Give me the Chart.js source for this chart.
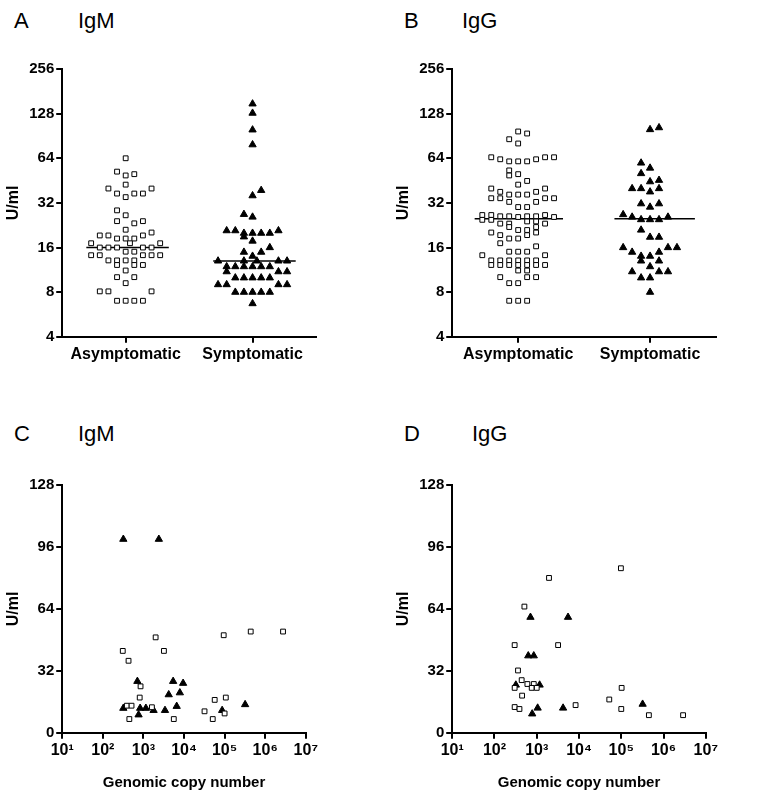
<!DOCTYPE html>
<html><head><meta charset="utf-8">
<script src="https://cdn.jsdelivr.net/npm/chart.js@4"></script>
<style>
body{margin:0;background:#fff;width:773px;height:800px;position:relative;font-family:"Liberation Sans",Arial,sans-serif;overflow:hidden}
.lbl{position:absolute;font-size:22px;color:#000}
.box{position:absolute}
</style></head><body>
<div class="lbl" style="left:14px;top:8px">A</div><div class="lbl" style="left:78px;top:8px">IgM</div>
<div class="lbl" style="left:404px;top:8px">B</div><div class="lbl" style="left:462px;top:8px">IgG</div>
<div class="lbl" style="left:14px;top:421px">C</div><div class="lbl" style="left:78px;top:421px">IgM</div>
<div class="lbl" style="left:404px;top:421px">D</div><div class="lbl" style="left:472px;top:421px">IgG</div>
<div class="box" style="left:0;top:58px;width:326px;height:308px"><canvas id="a"></canvas></div>
<div class="box" style="left:390px;top:58px;width:336px;height:308px"><canvas id="b"></canvas></div>
<div class="box" style="left:0;top:474px;width:320px;height:322px"><canvas id="c"></canvas></div>
<div class="box" style="left:390px;top:474px;width:330px;height:322px"><canvas id="d"></canvas></div>
<script>
const groups=["Asymptomatic","Symptomatic"];
const logTicks=[4,8,16,32,64,128,256];
const linTicks=[0,32,64,96,128];
const copyTicks=[1e1,1e2,1e3,1e4,1e5,1e6,1e7];
// Panel A (IgM) dot plot: values and column slot
const aAsymVal=[64,52,49,50,42.5,40,40,37,35,37,37,28.5,26.4,24.1,23.3,24.1,21.1,20.2,19.3,19.3,19.3,18.4,18.4,18.4,17.1,17.1,17.1,16,16,16,16,16,15,15,14.2,14.2,14.2,14.2,14.2,13.1,13.1,13.1,13.1,12.2,12.2,12.2,11.2,10.1,10.1,9.2,8.1,8.1,8.1,7,7,7,7];
const aAsymCol=[0,-1,0,1,0,-2,3,-1,0,1,2,-1,0,-1,1,2,0,3,-3,-2,2,-1,0,1,-4,4,0.5,-3,-2,-1,2,3,0,1,-4,-3,2,3,4,-2,-1,0,1,-1,1,2,0,-1,1,0,-3,-2,3,-1,0,1,2];
const aSymVal=[149,129,99.5,79,38.9,35.8,26.8,25.7,20.8,20.8,20.8,20,20,20,20,18.9,17.7,16,14.9,14.9,14,13,13,13,13,13,11.9,11.9,11.9,11.9,11.9,11.9,11,11,11,10,10,10,10,10,9,9,9,9,8,8,8,8,8,6.7];
const aSymCol=[0,0,0,0,1,0,-1,0,-3,-2,3,-1,0,1,2,-1,0,2,-1,1,0,-4,-1,0.5,3,4,-3,-2,-1,0,1,2,-3,3,4,-2,-1,0,1,2,-4,-3,3,4,-2,-1,0,1,2,0];
const aMedians=[16,13];
// Panel B (IgG)
const bAsymVal=[97,94,86,80.5,65,63,61,61,61,63,65,65,53,49,50,45,42.5,40,38,38,40,36.4,36.4,36.4,34.4,34.4,34.4,34.4,32.5,32.5,30,30,26.5,26.5,26.5,26,26,25.7,26,26,25.7,24.6,24.6,23.2,23.2,24,24,23.2,22,21,21,22,20.2,20.2,19.4,19.4,18.4,18.4,17.1,16.3,15,15,15,14.2,14.2,13.1,13.1,13.1,13.1,13.1,13.1,12.2,12.2,12.2,12.2,12.2,12.2,12.2,11.2,11.2,10.1,10.1,10.1,9.2,9.2,7,7,7];
const bAsymCol=[0,1,-1,0,-3,-2,-1,0,1,2,3,4,-1,-1,0,1,0,-3,-2,2,3,-1,0,1,-3,-2,3,4,-1,2,0,1,-4,-3,3,-2,-1,0,1,2,4,-4,-3,-2,-1,1,2,3,-1,0,1,2,-3,2,-2,1,-1,0,-2,2,-1,0,1,3,-4,-3,-2,-1,0,1,2,-3,-2,-1,0,1,2,3,0,1,-2,1,2,-1,0,-1,0,1];
const bSymVal=[100,103,59.5,55,50.5,44.5,45.5,40,40,38,40,31.6,30,31.6,26.7,25.7,24.7,24.7,24.7,25.7,21,18.8,18.8,16,16,16,14.9,14.9,14,14,13,13,11.9,11,11,11,10,10,8];
const bSymCol=[0,1,-1,0,-1,0,1,-2,-1,0,1,-1,0,1,-3,-2,-1,0,1,2,-1,0,1,-3,2,3,-2,1,-1,0,-1,1,0,-2,1,2,-1,0,0];
const bMedians=[25,25];
// Panel C (IgM vs copy number)
const cAsymCopies=[310,430,2000,3200,95000,440000,2750000,850,810,390,510,1620,450,5600,32000,57000,107000,51000,100000];
const cAsymVal=[42.3,37.2,49.3,42.3,50.4,52.3,52.3,24,18.2,14,14,13.2,7.1,7.1,11.1,17,18.2,7.1,10];
const cSymCopies=[320,2400,710,5400,9500,4200,7900,320,830,1150,1780,3400,6600,87000,320000,760];
const cSymVal=[100,100,26.6,26.6,25.6,19.7,20.7,12.7,12.7,12.7,11.6,11.6,13.7,11.6,14.6,9.3];
// Panel D (IgG vs copy number)
const dAsymCopies=[510,1950,98000,300,3200,360,440,600,850,300,760,1000,450,102000,52000,8300,300,390,100000,450000,2900000];
const dAsymVal=[65.2,80,85,45.3,45.3,32.2,27.2,25.2,25.2,23.2,23.2,23.2,19.2,23.2,17.2,14.3,13.3,12.3,12.3,9.1,9.1];
const dSymCopies=[710,5500,630,850,320,1170,1050,4200,780,320000];
const dSymVal=[59.7,59.7,39.8,39.8,24.7,24.7,12.8,12.8,9.8,14.8];

const STEP=0.068;
const FONT={family:"'Liberation Sans',Arial",weight:'bold',size:15};
const sup={'0':'⁰','1':'¹','2':'²','3':'³','4':'⁴','5':'⁵','6':'⁶','7':'⁷'};
const sq={pointStyle:'rect',pointRadius:3.4,backgroundColor:'#fff',borderColor:'#000',borderWidth:1,pointHoverRadius:3.4};
const tri={pointStyle:'triangle',pointRadius:4.2,backgroundColor:'#000',borderColor:'#000',borderWidth:1,pointHoverRadius:4.2};
function axisBase(){return {border:{color:'#000',width:2},grid:{drawOnChartArea:false,drawTicks:true,tickLength:6,color:'#000',lineWidth:2}};}
function yTicks(){return {color:'#000',font:FONT,padding:2,autoSkip:false,callback:v=>String(v)};}
function yTitle(){return {display:true,text:'U/ml',color:'#000',font:{family:"'Liberation Sans',Arial",weight:'bold',size:16}};}
function pts(vals,cols,c){return vals.map((v,i)=>({x:c+cols[i]*STEP,y:v}));}
function dotPanel(id,asV,asC,syV,syC,med,medRanges){
  new Chart(document.getElementById(id),{type:'scatter',
   data:{datasets:[
    Object.assign({data:pts(asV,asC,0)},sq),
    Object.assign({data:pts(syV,syC,1)},tri),
    {type:'line',data:[{x:medRanges[0][0],y:med[0]},{x:medRanges[0][1],y:med[0]}],borderColor:'#000',borderWidth:1.5,pointRadius:0},
    {type:'line',data:[{x:1+medRanges[1][0],y:med[1]},{x:1+medRanges[1][1],y:med[1]}],borderColor:'#000',borderWidth:1.5,pointRadius:0}]},
   options:{animation:false,responsive:true,maintainAspectRatio:false,plugins:{legend:{display:false},tooltip:{enabled:false}},
    layout:{padding:{top:6,right:10}},
    scales:{
     x:Object.assign(axisBase(),{type:'linear',min:-0.5,max:1.5,afterBuildTicks:s=>{s.ticks=[{value:0},{value:1}];},ticks:{color:'#000',font:{family:"'Liberation Sans',Arial",weight:'bold',size:16},padding:2,callback:v=>groups[v]}}),
     y:Object.assign(axisBase(),{type:'logarithmic',min:4,max:256,afterBuildTicks:s=>{s.ticks=logTicks.map(v=>({value:v}));},ticks:yTicks(),title:yTitle()})
    }}});
}
function copyPanel(id,aX,aY,sX,sY){
  new Chart(document.getElementById(id),{type:'scatter',
   data:{datasets:[
    Object.assign({data:aX.map((x,i)=>({x,y:aY[i]}))},sq),
    Object.assign({data:sX.map((x,i)=>({x,y:sY[i]}))},tri)]},
   options:{animation:false,responsive:true,maintainAspectRatio:false,plugins:{legend:{display:false},tooltip:{enabled:false}},
    layout:{padding:{top:6,right:10}},
    scales:{
     x:Object.assign(axisBase(),{type:'logarithmic',min:10,max:1e7,afterBuildTicks:s=>{s.ticks=copyTicks.map(v=>({value:v}));},
       ticks:{color:'#000',font:{family:"'Liberation Sans',Arial",weight:'bold',size:16},padding:2,autoSkip:false,maxRotation:0,callback:v=>'10'+sup[String(Math.round(Math.log10(v)))]},
       title:{display:true,text:'Genomic copy number',color:'#000',font:{family:"'Liberation Sans',Arial",weight:'bold',size:15},padding:{top:12}}}),
     y:Object.assign(axisBase(),{type:'linear',min:0,max:128,afterBuildTicks:s=>{s.ticks=linTicks.map(v=>({value:v}));},ticks:yTicks(),title:yTitle()})
    }}});
}
dotPanel('a',aAsymVal,aAsymCol,aSymVal,aSymCol,aMedians,[[-0.31,0.34],[-0.31,0.34]]);
dotPanel('b',bAsymVal,bAsymCol,bSymVal,bSymCol,bMedians,[[-0.33,0.34],[-0.27,0.34]]);
copyPanel('c',cAsymCopies,cAsymVal,cSymCopies,cSymVal);
copyPanel('d',dAsymCopies,dAsymVal,dSymCopies,dSymVal);
</script></body></html>
